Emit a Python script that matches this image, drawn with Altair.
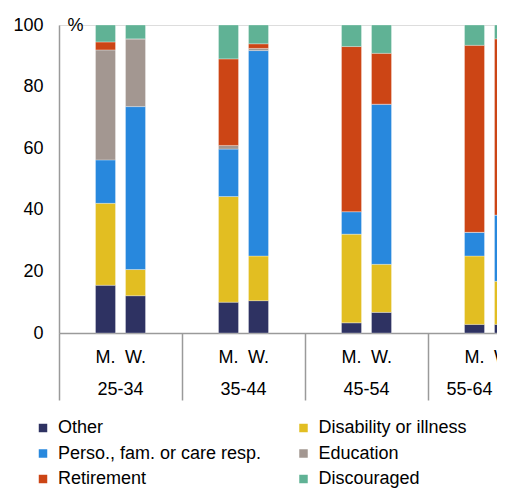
import altair as alt
import pandas as pd

groups = ["25-34", "35-44", "45-54", "55-64"]
sexes = ["M.", "W."]
categories = ["Other", "Disability or illness", "Perso., fam. or care resp.",
              "Education", "Retirement", "Discouraged"]
colors = ["#2E3262", "#E2BE22", "#2888DD", "#A39791", "#CC4515", "#60B295"]

# order: 25-34 M, 25-34 W, 35-44 M, 35-44 W, 45-54 M, 45-54 W, 55-64 M, 55-64 W
other = [15.5, 12.1, 10.0, 10.5, 3.3, 6.7, 2.8, 2.8]
disability = [26.6, 8.5, 34.3, 14.5, 28.8, 15.6, 22.2, 14.0]
perso = [14.1, 52.9, 15.4, 66.7, 7.3, 52.0, 7.7, 21.5]
education = [35.7, 22.0, 1.2, 0.7, 0.0, 0.0, 0.0, 0.0]
retirement = [2.6, 0.0, 28.1, 1.5, 53.6, 16.5, 60.7, 57.2]
discouraged = [5.5, 4.5, 11.0, 6.1, 7.0, 9.2, 6.6, 4.5]

series = [other, disability, perso, education, retirement, discouraged]
rows = []
for ci, (cat, vals) in enumerate(zip(categories, series)):
    k = 0
    for g in groups:
        for s in sexes:
            rows.append({"group": g, "sex": s, "cat": cat, "order": ci, "value": vals[k]})
            k += 1
df = pd.DataFrame(rows)
labels_df = pd.DataFrame([{"group": g, "sex": s} for g in groups for s in sexes])
groups_df = pd.DataFrame({"group": groups, "last": [i == len(groups) - 1 for i in range(len(groups))]})

FONT = "Arial"
GRAY = "#9a9a9a"
W = 438
H = 308
GROUP_W = 123

x_enc = alt.X("group:N", sort=groups, title=None,
              scale=alt.Scale(domain=groups, range=[0, GROUP_W * len(groups)],
                              paddingInner=0, paddingOuter=0),
              axis=alt.Axis(labels=False, ticks=True, tickSize=67, bandPosition=0,
                            tickColor=GRAY, tickWidth=1.5, domainColor=GRAY,
                            domainWidth=1.5, title=None))
xoff_enc = alt.XOffset("sex:N", sort=sexes,
                       scale=alt.Scale(domain=sexes, range=[36.5, 86.5],
                                       paddingInner=0.3333, paddingOuter=0))

bars = alt.Chart(df).mark_bar(stroke="white", strokeWidth=0.6, strokeOpacity=0.5).encode(
    x=x_enc,
    xOffset=xoff_enc,
    y=alt.Y("value:Q", stack="zero",
            scale=alt.Scale(domain=[0, 100], nice=False),
            axis=alt.Axis(values=[0, 20, 40, 60, 80, 100], ticks=False, grid=False,
                          labelFontSize=18, labelPadding=16, labelColor="#000",
                          domainColor=GRAY, domainWidth=1.5,
                          title="%", titleAngle=0, titleX=8, titleY=0,
                          titleAlign="left", titleBaseline="middle",
                          titleFontSize=18, titleFontWeight="normal", titleColor="#000")),
    color=alt.Color("cat:N", sort=categories,
                    scale=alt.Scale(domain=categories, range=colors),
                    legend=alt.Legend(orient="none", legendX=-25, legendY=394, columns=2,
                                      direction="horizontal",
                                      columnPadding=32.5, rowPadding=7.5, symbolType="square",
                                      symbolSize=72, symbolStrokeWidth=0, labelFontSize=18,
                                      labelOffset=6, labelColor="#000", title=None,
                                      padding=0, labelLimit=400)),
    order=alt.Order("order:Q", sort="ascending"),
)

sex_text = alt.Chart(labels_df).mark_text(fontSize=18, font=FONT, color="#000",
                                          baseline="middle").encode(
    x=x_enc,
    xOffset=xoff_enc,
    y=alt.value(333),
    text="sex:N",
)

group_text = alt.Chart(groups_df).mark_text(fontSize=18, font=FONT, color="#000",
                                            baseline="middle").encode(
    x=x_enc,
    y=alt.value(365),
    text="group:N",
).transform_filter("!datum.last")

# last group label is pulled inside the visible edge, as in the reference
group_text_last = alt.Chart(groups_df).mark_text(fontSize=18, font=FONT, color="#000",
                                                 baseline="middle", align="right", dx=3).encode(
    x=x_enc,
    y=alt.value(365),
    text="group:N",
).transform_filter("datum.last")

chart = alt.layer(bars, sex_text, group_text, group_text_last).properties(
    width=W, height=H,
    autosize=alt.AutoSizeParams(type="none"),
    padding={"left": 51, "top": 17, "right": 0, "bottom": 155},
).configure_view(stroke=None).configure(font=FONT)

chart.save("out.html", embed_options={"renderer": "svg", "actions": False})
